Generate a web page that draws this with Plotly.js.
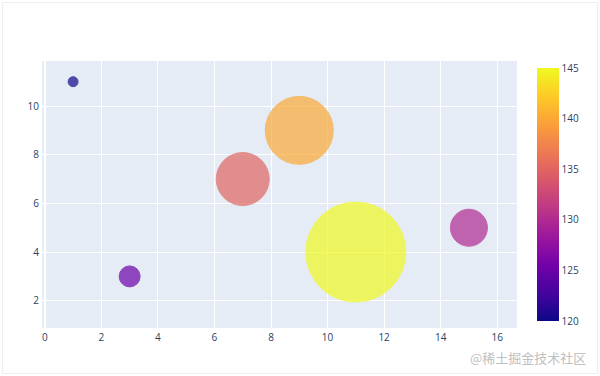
<!DOCTYPE html>
<html>
<head>
<meta charset="utf-8">
<script src="https://cdn.plot.ly/plotly-3.0.1.min.js"></script>
<style>
html,body{margin:0;padding:0;background:#fff;}
#wrap{position:relative;width:600px;height:376px;}
#chart{width:600px;height:376px;}
#frame{position:absolute;left:2px;top:2px;width:594px;height:370px;border:1px solid #efefef;pointer-events:none;}
</style>
</head>
<body>
<div id="wrap"><div id="chart"></div><div id="frame"></div></div>
<script>
const xValues = [1, 3, 7, 9, 11, 15];
const yValues = [11, 3, 7, 9, 4, 5];
const colorValues = [120, 125, 135, 140, 145, 130];
const sizeValues = [10, 21, 53, 68, 100, 37];
const xTicks = [0, 2, 4, 6, 8, 10, 12, 14, 16];
const yTicks = [2, 4, 6, 8, 10];
const cbTicks = [120, 125, 130, 135, 140, 145];
const plasmaColors = ['#0d0887', '#46039f', '#7201a8', '#9c179e', '#bd3786', '#d8576b', '#ed7953', '#fb9f3a', '#fdca26', '#f0f921'];

const plasmaScale = plasmaColors.map((c, i) => [i / (plasmaColors.length - 1), c]);

const trace = {
  type: 'scatter',
  mode: 'markers',
  x: xValues,
  y: yValues,
  marker: {
    size: sizeValues,
    color: colorValues,
    colorscale: plasmaScale,
    cmin: 120,
    cmax: 145,
    opacity: 0.7,
    line: {width: 1, color: colorValues, colorscale: plasmaScale, cmin: 120, cmax: 145},
    showscale: true,
    colorbar: {
      thickness: 22,
      ypad: 7,
      outlinewidth: 0,
      tickvals: cbTicks,
      ticks: '',
      tickfont: {size: 10, color: '#2a3f5f'}
    }
  },
  hoverinfo: 'none'
};

const axisCommon = {
  gridcolor: '#ffffff',
  zerolinecolor: '#ffffff',
  zerolinewidth: 2,
  linecolor: '#ffffff',
  ticks: '',
  tickfont: {size: 10, color: '#2a3f5f'}
};

const layout = {
  width: 600,
  height: 376,
  margin: {l: 42, r: 83, t: 61, b: 48},
  paper_bgcolor: '#ffffff',
  plot_bgcolor: '#E5ECF6',
  font: {family: '"Open Sans", verdana, arial, sans-serif', color: '#2a3f5f'},
  xaxis: Object.assign({}, axisCommon, {range: [-0.1, 16.7], tickvals: xTicks}),
  yaxis: Object.assign({}, axisCommon, {range: [0.88, 11.85], tickvals: yTicks}),
  showlegend: false,
  annotations: [{
    text: '@稀土掘金技术社区',
    xref: 'paper', yref: 'paper',
    x: 1.149, y: -0.068,
    xanchor: 'right', yanchor: 'top',
    showarrow: false,
    font: {family: '"Noto Sans CJK SC", sans-serif', size: 13, color: '#c0c0c0'}
  }]
};

Plotly.newPlot('chart', [trace], layout, {displayModeBar: false, staticPlot: true});
</script>
</body>
</html>
